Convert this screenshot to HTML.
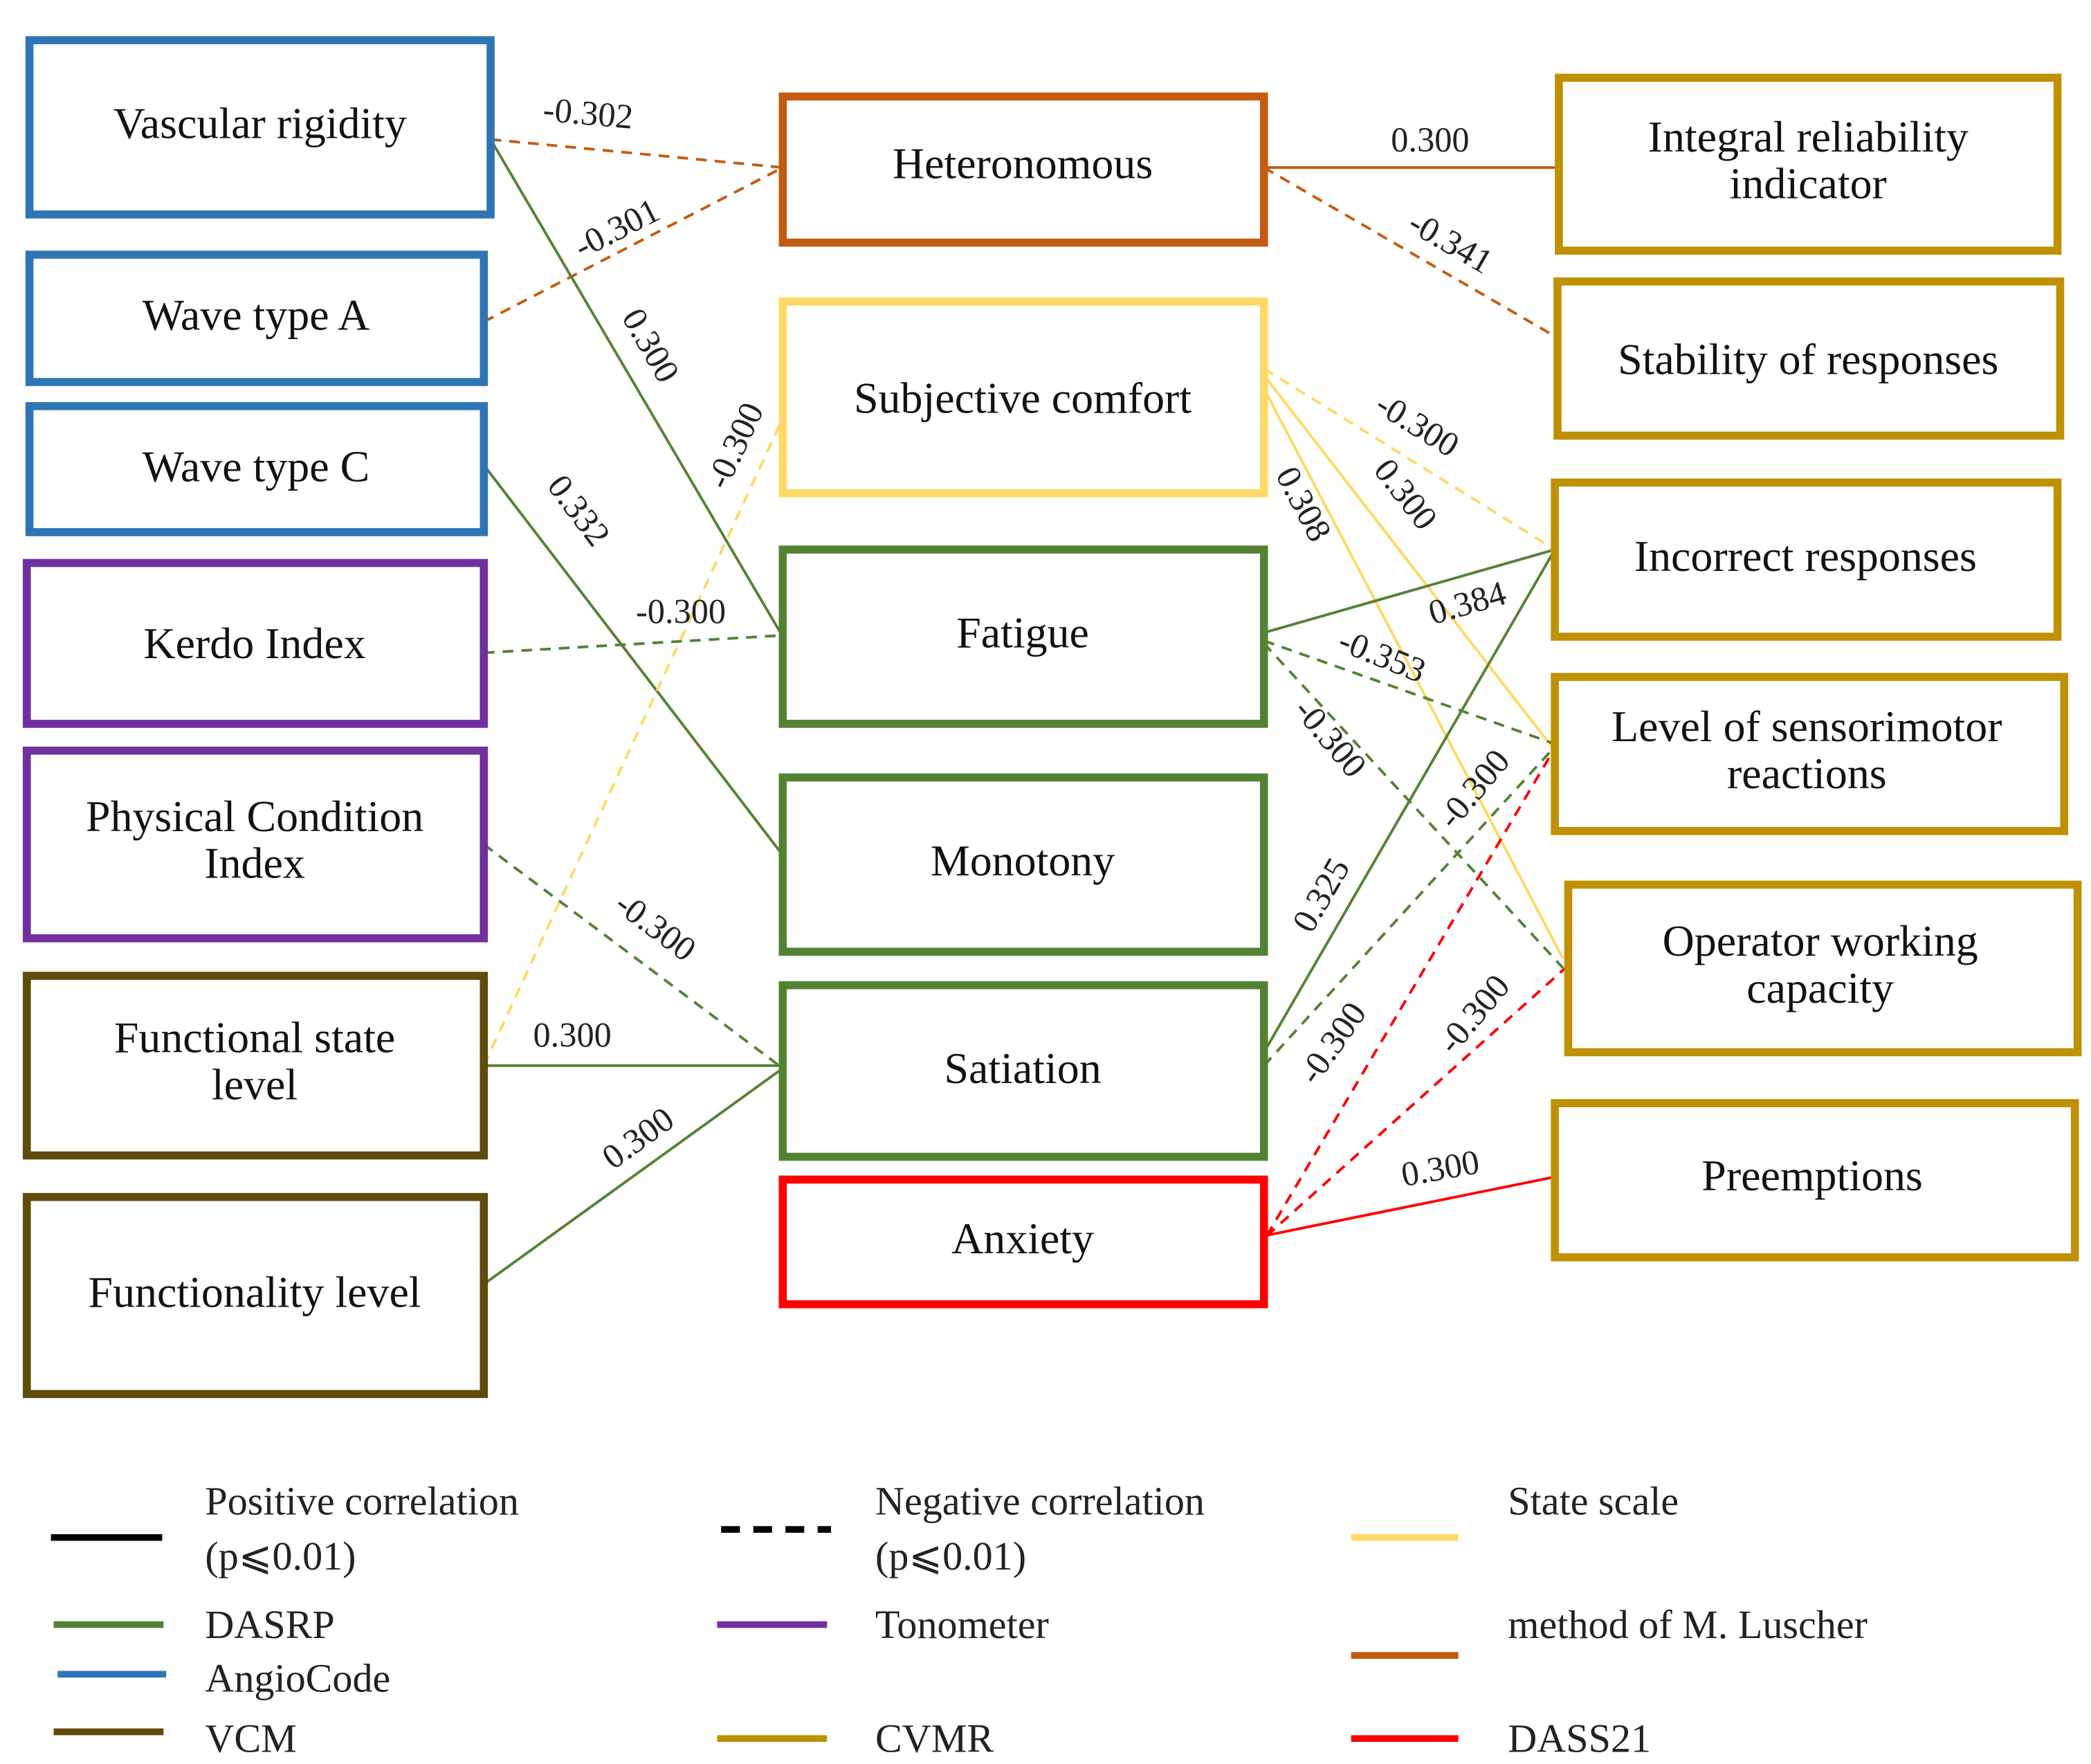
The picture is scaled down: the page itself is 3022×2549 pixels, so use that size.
<!DOCTYPE html>
<html><head><meta charset="utf-8"><style>html,body{margin:0;padding:0;background:#fff}svg{display:block}</style></head>
<body>
<svg width="3022" height="2549" viewBox="0 0 1560 1316" preserveAspectRatio="none" xmlns="http://www.w3.org/2000/svg" font-family="Liberation Serif, serif">
<rect width="1560" height="1316" fill="#fff"/>
<g fill="none" stroke-width="2">
<line x1="366" y1="104" x2="584" y2="125" stroke="#c55a11" stroke-dasharray="8,6"/>
<line x1="361" y1="240" x2="584" y2="125" stroke="#c55a11" stroke-dasharray="8,6"/>
<line x1="943" y1="125" x2="1163" y2="125" stroke="#c55a11"/>
<line x1="943" y1="125" x2="1162" y2="252" stroke="#c55a11" stroke-dasharray="8,6"/>
<line x1="366" y1="104" x2="584" y2="475" stroke="#548235"/>
<line x1="361" y1="347" x2="584" y2="638" stroke="#548235"/>
<line x1="361" y1="487" x2="584" y2="474" stroke="#548235" stroke-dasharray="8,6"/>
<line x1="361" y1="630" x2="584" y2="797" stroke="#548235" stroke-dasharray="8,6"/>
<line x1="361" y1="795" x2="584" y2="795" stroke="#548235"/>
<line x1="361" y1="958" x2="584" y2="797" stroke="#548235"/>
<line x1="361" y1="795" x2="584" y2="312" stroke="#ffd966" stroke-dasharray="8,6"/>
<line x1="943" y1="275" x2="1160" y2="410" stroke="#ffd966" stroke-dasharray="8,6"/>
<line x1="943" y1="280" x2="1160" y2="560" stroke="#ffd966"/>
<line x1="943" y1="290" x2="1166" y2="715" stroke="#ffd966"/>
<line x1="943" y1="472" x2="1160" y2="410" stroke="#548235"/>
<line x1="943" y1="478" x2="1160" y2="555" stroke="#548235" stroke-dasharray="8,6"/>
<line x1="943" y1="480" x2="1166" y2="722" stroke="#548235" stroke-dasharray="8,6"/>
<line x1="943" y1="785" x2="1160" y2="410" stroke="#548235"/>
<line x1="943" y1="795" x2="1160" y2="557" stroke="#548235" stroke-dasharray="8,6"/>
<line x1="945" y1="922" x2="1160" y2="558" stroke="#ff0000" stroke-dasharray="8,6"/>
<line x1="945" y1="922" x2="1168" y2="722" stroke="#ff0000" stroke-dasharray="8,6"/>
<line x1="943" y1="922" x2="1160" y2="878" stroke="#ff0000"/>
</g>
<g fill="#fff" stroke-width="6">
<rect x="22" y="30" width="344" height="130" stroke="#2e75b6"/>
<rect x="22" y="190" width="339" height="95" stroke="#2e75b6"/>
<rect x="22" y="303" width="339" height="94" stroke="#2e75b6"/>
<rect x="20" y="420" width="341" height="120" stroke="#7030a0"/>
<rect x="20" y="560" width="341" height="140" stroke="#7030a0"/>
<rect x="20" y="728" width="341" height="134" stroke="#5f4b0b"/>
<rect x="20" y="893" width="341" height="147" stroke="#5f4b0b"/>
<rect x="584" y="72" width="359" height="109" stroke="#c55a11"/>
<rect x="584" y="225" width="359" height="143" stroke="#ffd966"/>
<rect x="584" y="410" width="359" height="130" stroke="#548235"/>
<rect x="584" y="580" width="359" height="130" stroke="#548235"/>
<rect x="584" y="735" width="359" height="128" stroke="#548235"/>
<rect x="584" y="880" width="359" height="93" stroke="#ff0000"/>
<rect x="1163" y="58" width="372" height="129" stroke="#bf9000"/>
<rect x="1162" y="210" width="375" height="115" stroke="#bf9000"/>
<rect x="1160" y="360" width="375" height="115" stroke="#bf9000"/>
<rect x="1160" y="505" width="380" height="115" stroke="#bf9000"/>
<rect x="1170" y="660" width="380" height="125" stroke="#bf9000"/>
<rect x="1160" y="823" width="388" height="115" stroke="#bf9000"/>
</g>
<g font-size="33" text-anchor="middle" fill="#111">
<text x="194" y="103">Vascular rigidity</text>
<text x="191" y="246">Wave type A</text>
<text x="191" y="359">Wave type C</text>
<text x="190" y="491">Kerdo Index</text>
<text x="190" y="620">Physical Condition</text>
<text x="190" y="655">Index</text>
<text x="190" y="785">Functional state</text>
<text x="190" y="820">level</text>
<text x="190" y="975">Functionality level</text>
<text x="763" y="133">Heteronomous</text>
<text x="763" y="308">Subjective comfort</text>
<text x="763" y="483">Fatigue</text>
<text x="763" y="653">Monotony</text>
<text x="763" y="808">Satiation</text>
<text x="763" y="935">Anxiety</text>
<text x="1349" y="113">Integral reliability</text>
<text x="1349" y="148">indicator</text>
<text x="1349" y="279">Stability of responses</text>
<text x="1347" y="426">Incorrect responses</text>
<text x="1348" y="553">Level of sensorimotor</text>
<text x="1348" y="588">reactions</text>
<text x="1358" y="713">Operator working</text>
<text x="1358" y="748">capacity</text>
<text x="1352" y="888">Preemptions</text>
</g>
<g font-size="26" text-anchor="middle" fill="#222">
<text transform="translate(438,93) rotate(5)">-0.302</text>
<text transform="translate(464,178) rotate(-27)">-0.301</text>
<text x="1067" y="113">0.300</text>
<text transform="translate(1078,188) rotate(30)">-0.341</text>
<text transform="translate(478,262) rotate(60)">0.300</text>
<text transform="translate(556,336) rotate(-65)">-0.300</text>
<text transform="translate(425,386) rotate(53)">0.332</text>
<text x="508" y="465">-0.300</text>
<text transform="translate(484,698) rotate(37)">-0.300</text>
<text x="427" y="781">0.300</text>
<text transform="translate(481,856) rotate(-36)">0.300</text>
<text transform="translate(1053,324) rotate(32)">-0.300</text>
<text transform="translate(1042,374) rotate(52)">0.300</text>
<text transform="translate(965,380) rotate(62)">0.308</text>
<text transform="translate(1097,458) rotate(-16)">0.384</text>
<text transform="translate(1028,497) rotate(22)">-0.353</text>
<text transform="translate(986,556) rotate(50)">-0.300</text>
<text transform="translate(993,672) rotate(-60)">0.325</text>
<text transform="translate(1106,594) rotate(-50)">-0.300</text>
<text transform="translate(1001,783) rotate(-55)">-0.300</text>
<text transform="translate(1106,762) rotate(-50)">-0.300</text>
<text transform="translate(1076,880) rotate(-10)">0.300</text>
</g>
<g stroke-width="5">
<line x1="38" y1="1147" x2="121" y2="1147" stroke="#000"/>
<line x1="538" y1="1141" x2="620" y2="1141" stroke="#000" stroke-dasharray="14,10"/>
<line x1="1008" y1="1147" x2="1088" y2="1147" stroke="#ffd966"/>
<line x1="40" y1="1212" x2="122" y2="1212" stroke="#548235"/>
<line x1="535" y1="1212" x2="617" y2="1212" stroke="#7030a0"/>
<line x1="1008" y1="1235" x2="1088" y2="1235" stroke="#c55a11"/>
<line x1="43" y1="1249" x2="124" y2="1249" stroke="#2e75b6"/>
<line x1="40" y1="1292" x2="122" y2="1292" stroke="#5f4b0b"/>
<line x1="535" y1="1297" x2="617" y2="1297" stroke="#bf9000"/>
<line x1="1008" y1="1297" x2="1088" y2="1297" stroke="#ff0000"/>
</g>
<g font-size="30" fill="#222">
<text x="153" y="1130">Positive correlation</text>
<text x="153" y="1171">(p⩽0.01)</text>
<text x="653" y="1130">Negative correlation</text>
<text x="653" y="1171">(p⩽0.01)</text>
<text x="1125" y="1130">State scale</text>
<text x="153" y="1222">DASRP</text>
<text x="653" y="1222">Tonometer</text>
<text x="1125" y="1222">method of M. Luscher</text>
<text x="153" y="1262">AngioCode</text>
<text x="153" y="1307">VCM</text>
<text x="653" y="1307">CVMR</text>
<text x="1125" y="1307">DASS21</text>
</g>
</svg>
</body></html>
